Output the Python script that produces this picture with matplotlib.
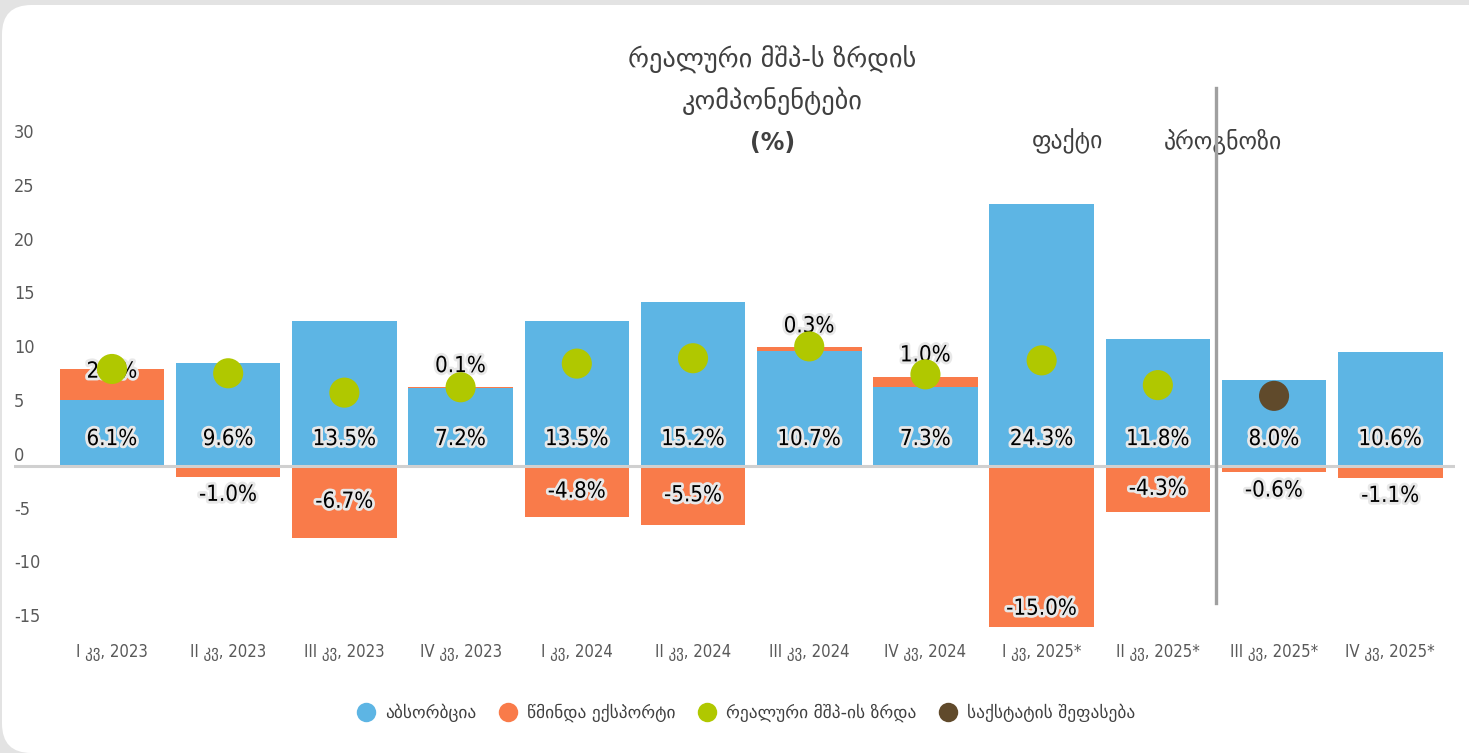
import matplotlib.pyplot as plt
import matplotlib.patheffects as pe
from matplotlib.patches import FancyBboxPatch
from matplotlib.lines import Line2D
from matplotlib.transforms import ScaledTranslation

plt.rcParams['font.family'] = ['DejaVu Sans']

quarters = ["I კვ, 2023", "II კვ, 2023", "III კვ, 2023", "IV კვ, 2023",
            "I კვ, 2024", "II კვ, 2024", "III კვ, 2024", "IV კვ, 2024",
            "I კვ, 2025*", "II კვ, 2025*", "III კვ, 2025*", "IV კვ, 2025*"]
absorption = [6.1, 9.6, 13.5, 7.2, 13.5, 15.2, 10.7, 7.3, 24.3, 11.8, 8.0, 10.6]
net_exports = [2.9, -1.0, -6.7, 0.1, -4.8, -5.5, 0.3, 1.0, -15.0, -4.3, -0.6, -1.1]
gdp_growth = [9.0, 8.6, 6.8, 7.3, 9.5, 10.0, 11.1, 8.5, 9.8, 7.5, None, None]
geostat_est = [None] * 10 + [6.5, None]

BLUE = "#5DB5E4"
ORANGE = "#F97B4A"
GREEN = "#B0C800"
BROWN = "#604A2B"
TEXT = "#404040"

fig = plt.figure(figsize=(14.69, 7.53), dpi=100, facecolor="#e3e3e3")
card = FancyBboxPatch((2 / 1469, 0), 1.2, (753 - 5) / 753, transform=fig.transFigure,
                      boxstyle="round,pad=0,rounding_size=0.02", facecolor="white",
                      edgecolor="none", mutation_aspect=1469 / 753, zorder=-5)
fig.patches.append(card)

ax = fig.add_axes([14 / 1469, 113 / 753, 1441 / 1469, 520 / 753])
ax.set_zorder(2)
ax.set_facecolor("none")
ax.set_xlim(-0.843, 11.557)
ax.set_ylim(-16.2, 32.15)
for s in ax.spines.values():
    s.set_visible(False)

x = list(range(len(quarters)))
w = 0.9
ax.bar(x, absorption, w, color=BLUE, zorder=2)
pos_base = [a if n >= 0 else 0 for a, n in zip(absorption, net_exports)]
ax.bar(x, net_exports, w, bottom=pos_base, color=ORANGE, zorder=2)
ax.axhline(0, color="#d0d0d0", lw=2.2, zorder=3)

# data labels with light halo (dots sit on top of them)
halo = [pe.withStroke(linewidth=4, foreground="#e8e8e8")]
lab = dict(fontsize=16, color="black", ha="center", path_effects=halo, zorder=4,
           textcoords="offset points", fontstretch="condensed")
for i, a in enumerate(absorption):
    ax.annotate(f"{a:.1f}%", (i, 0), xytext=(0, 12), va="bottom", **lab)
for i, (b, n) in enumerate(zip(pos_base, net_exports)):
    if n >= 0:
        y = b + n if abs(n) < 2 else b + n * 0.5 + 1.2
        ax.annotate(f"{n:.1f}%", (i, y), xytext=(0, 8 if abs(n) < 2 else 0),
                    va="bottom" if abs(n) < 2 else "center", **lab)
    elif abs(n) < 2:
        ax.annotate(f"{n:.1f}%", (i, n), xytext=(0, -6), va="top", **lab)
    elif abs(n) > 10:
        ax.annotate(f"{n:.1f}%", (i, n), xytext=(0, 6), va="bottom", **lab)
    else:
        ax.annotate(f"{n:.1f}%", (i, n / 2), xytext=(0, 0), va="center", **lab)

gx = [i for i, v in enumerate(gdp_growth) if v is not None]
ax.scatter(gx, [gdp_growth[i] for i in gx], s=470, color=GREEN, zorder=5, edgecolors="none")
bx = [i for i, v in enumerate(geostat_est) if v is not None]
ax.scatter(bx, [geostat_est[i] for i in bx], s=470, color=BROWN, zorder=5, edgecolors="none")

# fact / forecast divider
ax.plot([9.5, 9.5], [-12.8, 35.1], color="#a0a0a0", lw=2.4, clip_on=False, zorder=6)
ax.text(8.22, 30.2, "ფაქტი", fontsize=17, color=TEXT, ha="center", va="center")
ax.text(9.56, 30.2, "პროგნოზი", fontsize=17, color=TEXT, ha="center", va="center")

ax.set_xticks(x)
ax.set_xticklabels(quarters, fontsize=12, color="#595959", fontstretch="condensed")
ax.tick_params(axis="x", length=0, pad=2)
ax.set_yticks(range(-15, 31, 5))
ax.set_yticklabels([str(v) for v in range(-15, 31, 5)], fontsize=13, color="#595959",
                   ha="left", fontstretch="condensed")
ax.tick_params(axis="y", length=0, pad=0)
for t in ax.get_yticklabels():
    t.set_transform(t.get_transform() + ScaledTranslation(-0.0, 0.12, fig.dpi_scale_trans))

fig.text(772 / 1469, 1 - 60 / 753, "რეალური მშპ-ს ზრდის", fontsize=19, color=TEXT,
         ha="center", va="center")
fig.text(772 / 1469, 1 - 101 / 753, "კომპონენტები", fontsize=19, color=TEXT,
         ha="center", va="center")
fig.text(773 / 1469, 1 - 143 / 753, "(%)", fontsize=17, color=TEXT, ha="center",
         va="center", fontweight="bold")

handles = [Line2D([], [], marker="o", ls="none", ms=14, color=c, mec="none")
           for c in (BLUE, ORANGE, GREEN, BROWN)]
names = ["აბსორბცია", "წმინდა ექსპორტი", "რეალური მშპ-ის ზრდა", "საქსტატის შეფასება"]
fig.legend(handles, names, loc="center", bbox_to_anchor=(742 / 1469, 1 - 713 / 753),
           ncol=4, frameon=False, fontsize=12.5, labelcolor=TEXT, handletextpad=0.1,
           columnspacing=0.8)

fig.savefig("out.png", dpi=100, facecolor=fig.get_facecolor())
